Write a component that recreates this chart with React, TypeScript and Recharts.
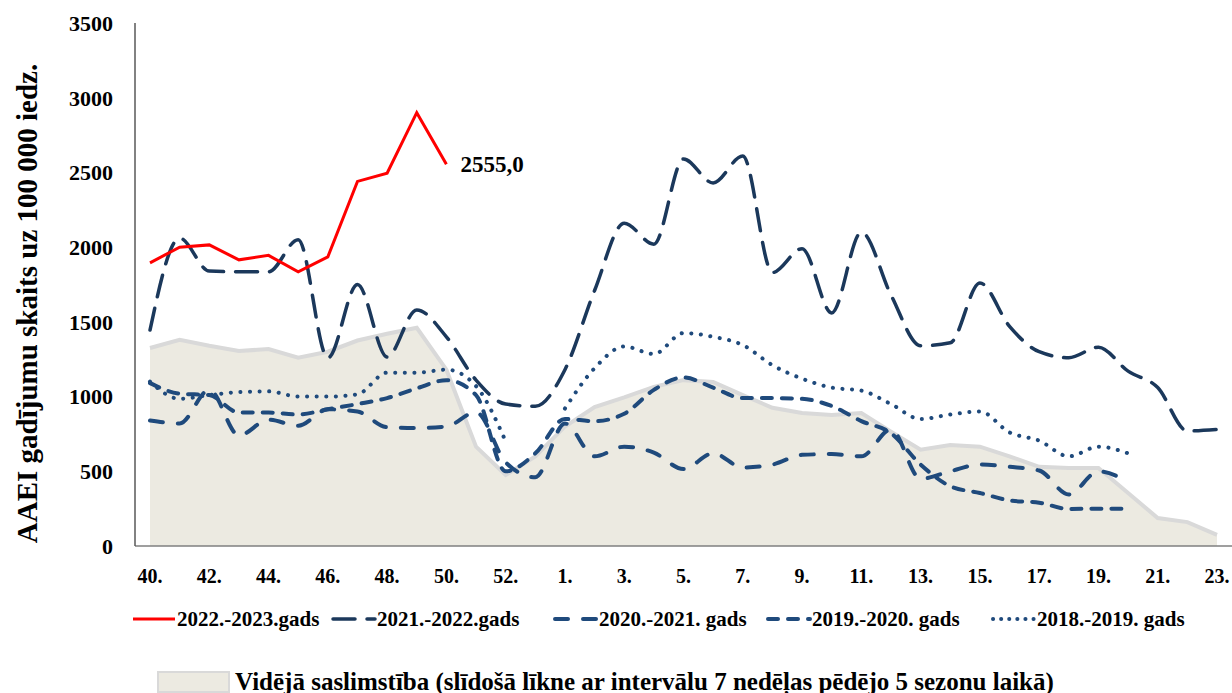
import React from 'react';
import { ComposedChart, Line, Area, XAxis, YAxis, LabelList } from 'recharts';

// nedēļas: 40.–53. un 1.–23.
const weeks = [
  '40', '41', '42', '43', '44', '45', '46', '47', '48', '49', '50', '51', '52', '53',
  '1', '2', '3', '4', '5', '6', '7', '8', '9', '10', '11', '12', '13', '14', '15', '16',
  '17', '18', '19', '20', '21', '22', '23',
];

const season2223 = [1895, 2000, 2015, 1915, 1945, 1835, 1935, 2440, 2495, 2900, 2555];

const season2122 = [
  1445, 2060, 1840, 1835, 1835, 2050, 1258, 1750, 1265, 1580, 1400, 1110, 950, 935,
  1180, 1710, 2160, 2020, 2590, 2430, 2610, 1830, 1990, 1560, 2100, 1680, 1340, 1360,
  1760, 1470, 1300, 1260, 1330, 1170, 1060, 770, 780,
];

const season2021 = [
  840, 820, 1045, 740, 845, 805, 915, 900, 795, 790, 800, 895, 560, 460,
  820, 600, 665, 625, 515, 620, 525, 545, 610, 615, 600, 780, 450, 500, 545, 530,
  505, 345, 500, 430,
];

const season1920 = [
  1090, 1020, 1010, 893, 893, 880, 915, 950, 990, 1055, 1110, 1010, 500, 620,
  850, 835, 885, 1045, 1128, 1060, 990, 990, 985, 937, 836, 755, 545, 400, 355, 305,
  290, 248, 250, 250,
];

const season1819 = [
  1100, 985, 1010, 1030, 1035, 1000, 1000, 1015, 1160, 1160, 1180, 1070, 700, null,
  920, 1190, 1335, 1285, 1425, 1400, 1345, 1210, 1120, 1060, 1040, 950, 850, 880, 900, 760,
  705, 600, 665, 620,
];

const average = [
  1325, 1380, 1340, 1305, 1318, 1260, 1300, 1375, 1420, 1460, 1180, 665, 475, 600,
  800, 930, 995, 1065, 1110, 1098, 1010, 925, 890, 877, 890, 765, 645, 676, 665, 600,
  530, 522, 522, 355, 187, 160, 74,
];

const yTicks = [0, 500, 1000, 1500, 2000, 2500, 3000, 3500];

const data = weeks.map((week, i) => ({
  week,
  s2223: season2223[i] ?? null,
  s2122: season2122[i] ?? null,
  s2021: season2021[i] ?? null,
  s1920: season1920[i] ?? null,
  s1819: season1819[i] ?? null,
  avg: average[i] ?? null,
}));

const FONT = "'Liberation Serif', 'Times New Roman', serif";
const RED = '#ff0000';
const NAVY = '#1f4a7c';
const NAVY_DARK = '#1b385b';
const AREA_FILL = '#eceae1';
const AREA_LINE = '#d9d9d9';

const lastRed = season2223.length - 1;

const RedLabel = (props: any) => {
  const { x, y, value, index } = props;
  if (index !== lastRed || value == null) return null;
  return (
    <text x={x + 14} y={y} dominantBaseline="central" fontFamily={FONT} fontWeight={700} fontSize={23} fill="#000">
      {Number(value).toFixed(1).replace('.', ',')}
    </text>
  );
};

const YTitle = (props: any) => {
  const { viewBox } = props;
  const cx = viewBox.x - 33;
  const cy = viewBox.y + viewBox.height / 2 + 19;
  return (
    <text
      x={cx}
      y={cy}
      transform={`rotate(-90, ${cx}, ${cy})`}
      textAnchor="middle"
      dominantBaseline="central"
      fontFamily={FONT}
      fontWeight={700}
      fontSize={29}
      fill="#000"
    >
      AAEI gadījumu skaits uz 100 000 iedz.
    </text>
  );
};

const legendItems = [
  { name: '2022.-2023.gads', color: RED, dash: undefined, width: 3, left: 131 },
  { name: '2021.-2022.gads', color: NAVY_DARK, dash: '22 12', width: 3.5, left: 331 },
  { name: '2020.-2021. gads', color: NAVY, dash: '13 15', width: 4, left: 553 },
  { name: '2019.-2020. gads', color: NAVY, dash: '10 10', width: 4, left: 766 },
  { name: '2018.-2019. gads', color: NAVY, dash: '0.1 8', width: 4, left: 991 },
];

const App: React.FC = () => {
  return (
    <div style={{ position: 'absolute', left: 0, top: 0, width: 1232, height: 693, background: '#fff' }}>
      <ComposedChart width={1232} height={693} data={data} margin={{ top: 23, right: 0, bottom: 117, left: 60 }}>
        <XAxis
          dataKey="week"
          scale="point"
          padding={{ left: 15, right: 15 }}
          interval={1}
          tickFormatter={(v) => `${v}.`}
          tickLine={false}
          tickMargin={17}
          axisLine={{ stroke: '#7f7f7f', strokeWidth: 1.5 }}
          tick={{ fontFamily: FONT, fontWeight: 700, fontSize: 20, fill: '#000' }}
        />
        <YAxis
          width={75}
          domain={[0, 3500]}
          ticks={yTicks}
          interval={0}
          tickLine={false}
          tickMargin={16}
          axisLine={{ stroke: '#595959', strokeWidth: 1.5 }}
          tick={{ fontFamily: FONT, fontWeight: 700, fontSize: 22, fill: '#000' }}
          label={{ content: <YTitle /> }}
        />
        <Area
          dataKey="avg"
          type="linear"
          fill={AREA_FILL}
          fillOpacity={1}
          stroke={AREA_LINE}
          strokeWidth={4}
          isAnimationActive={false}
        />
        <Line dataKey="s1819" type="monotone" stroke={NAVY} strokeWidth={4} strokeDasharray="0.1 9.5" strokeLinecap="round" dot={false} isAnimationActive={false} />
        <Line dataKey="s1920" type="monotone" stroke={NAVY} strokeWidth={4} strokeDasharray="10 10" strokeLinecap="round" dot={false} isAnimationActive={false} />
        <Line dataKey="s2021" type="monotone" stroke={NAVY} strokeWidth={4} strokeDasharray="13 15" strokeLinecap="round" dot={false} isAnimationActive={false} />
        <Line dataKey="s2122" type="monotone" stroke={NAVY_DARK} strokeWidth={3.5} strokeDasharray="22 12" strokeLinecap="round" dot={false} isAnimationActive={false} />
        <Line dataKey="s2223" type="linear" stroke={RED} strokeWidth={3} dot={false} isAnimationActive={false}>
          <LabelList dataKey="s2223" content={<RedLabel />} />
        </Line>
      </ComposedChart>

      {legendItems.map((item) => (
        <div
          key={item.name}
          style={{ position: 'absolute', left: item.left, top: 607, height: 24, display: 'flex', alignItems: 'center' }}
        >
          <svg width={46} height={24}>
            <line
              x1={2}
              y1={12}
              x2={44}
              y2={12}
              stroke={item.color}
              strokeWidth={item.width}
              strokeDasharray={item.dash}
              strokeLinecap={item.dash ? 'round' : 'butt'}
            />
          </svg>
          <span style={{ fontFamily: FONT, fontWeight: 700, fontSize: 21, color: '#000', marginLeft: 0 }}>{item.name}</span>
        </div>
      ))}

      <div style={{ position: 'absolute', left: 157, top: 670, height: 24, display: 'flex', alignItems: 'center' }}>
        <div style={{ width: 69, height: 18, background: AREA_FILL, border: `2px solid ${AREA_LINE}` }} />
        <span style={{ fontFamily: FONT, fontWeight: 700, fontSize: 25, color: '#000', marginLeft: 5 }}>
          Vidējā saslimstība (slīdošā līkne ar intervālu 7 nedēļas pēdējo 5 sezonu laikā)
        </span>
      </div>
    </div>
  );
};

export default App;
